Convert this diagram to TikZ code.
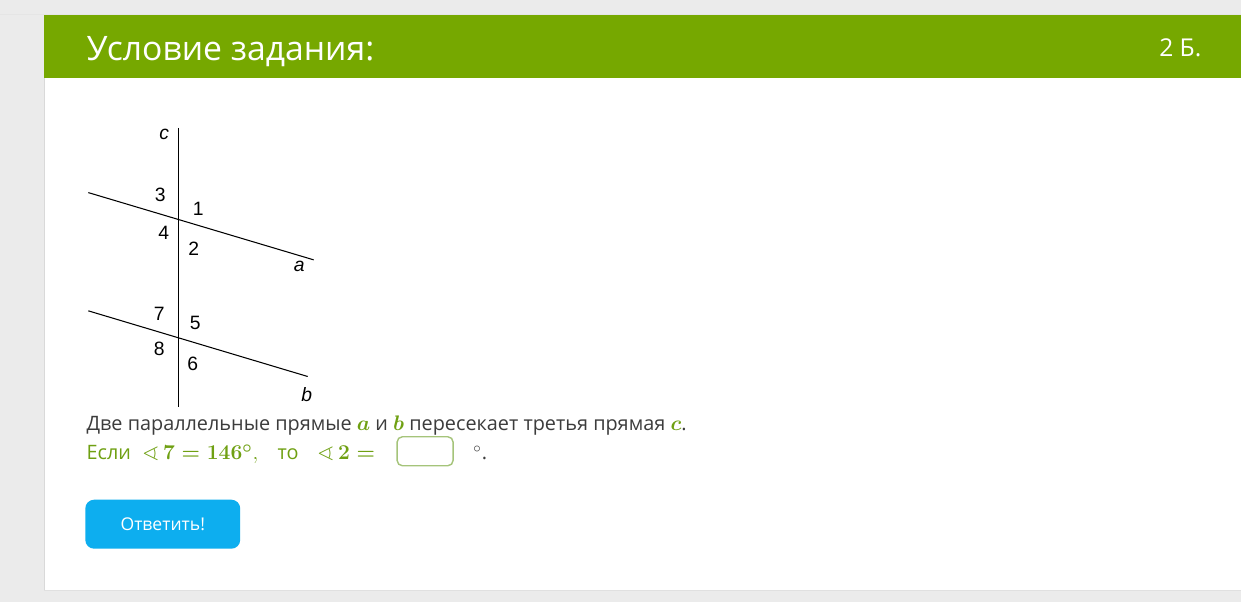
\documentclass[tikz,border=0pt]{standalone}
\usepackage{amsmath,amssymb}
\usepackage[no-math]{fontspec}
\setmainfont{Open Sans}
\newfontfamily\figfont{Liberation Sans}
\definecolor{pagegray}{HTML}{EBEBEB}
\definecolor{headgreen}{HTML}{76A800}
\definecolor{mathgreen}{HTML}{6FA012}
\definecolor{textgray}{HTML}{3C3C3C}
\definecolor{btnblue}{HTML}{0DAEEF}
\definecolor{boxline}{HTML}{A5C47A}
\tikzset{
  figline/.style={line width=0.6pt, black},
  numlabel/.style={font=\figfont\fontsize{11}{13}\selectfont, inner sep=0pt},
  linelabel/.style={font=\figfont\itshape\fontsize{11}{13}\selectfont, inner sep=0pt},
  bodytext/.style={anchor=base west, font=\fontsize{11.3}{13}\selectfont, inner sep=0pt},
  mathtext/.style={anchor=base west, font=\fontsize{13}{15}\selectfont, inner sep=0pt},
}
\newcommand{\gm}[1]{\textcolor{mathgreen}{\fontsize{13}{15}\selectfont$\boldsymbol{#1}$}}
\begin{document}
\begin{tikzpicture}[x=0.02cm, y=-0.02cm]
      % Page and card
      \fill[pagegray] (0,0) rectangle (1241,602);
      \fill[white] (44,15) rectangle (1241,590);
      \draw[black!15] (44,590) -- (44,15);
      \draw[black!12] (44,590.5) -- (1241,590.5);
      \draw[black!10] (0,14) -- (1241,14);
      \useasboundingbox (0,0) rectangle (1241,602);

      % Header
      \fill[headgreen] (44,15) rectangle (1241,78);
      \node[anchor=base west, text=white, font=\fontsize{19.2}{22}\selectfont, inner sep=0pt]
        (title) at (86,61) {Условие задания:};
      \node[anchor=base east, text=white, font=\fontsize{14}{16}\selectfont, inner sep=0pt]
        (points) at (1202,57) {2 Б.};

      % Figure: line c and parallels a, b
      \coordinate (ctop) at (178.3,128);
      \coordinate (cbot) at (178.3,407);
      \coordinate (aleft) at (88,192.7);
      \coordinate (aright) at (313.5,260);
      \coordinate (bleft) at (88,311);
      \coordinate (bright) at (307.5,376.7);
      \draw[figline] (ctop) -- (cbot);
      \draw[figline] (aleft) -- (aright);
      \draw[figline] (bleft) -- (bright);

      % Labels
      \node[linelabel] (lc) at (164,134) {c};
      \node[linelabel] (la) at (299,267) {a};
      \node[linelabel] (lb) at (306.5,395) {b};
      \node[numlabel] (n3) at (160,194.5) {3};
      \node[numlabel] (n1) at (198,208.5) {1};
      \node[numlabel] (n4) at (163.5,233) {4};
      \node[numlabel] (n2) at (193.5,248.5) {2};
      \node[numlabel] (n7) at (159,314) {7};
      \node[numlabel] (n5) at (195,323) {5};
      \node[numlabel] (n8) at (159,349) {8};
      \node[numlabel] (n6) at (192.5,364.5) {6};

      % Task text
      \node[bodytext, text=textgray] (line1) at (86,431)
        {Две параллельные прямые \gm{a} и \gm{b} пересекает третья прямая \gm{c}.};
      \node[bodytext, text=mathgreen] (if) at (86,460) {Если};
      \node[mathtext, text=mathgreen] (cond) at (142,460) {$\boldsymbol{\sphericalangle\, 7=146^\circ},$};
      \node[bodytext, text=mathgreen] (then) at (277,460) {то};
      \node[mathtext, text=mathgreen] (ask) at (317,460) {$\boldsymbol{\sphericalangle\, 2=}$};
      \draw[boxline, line width=0.8pt, rounded corners=3pt, fill=white]
        (397,437) rectangle (453,466);
      \node[bodytext, text=textgray] (deg) at (473,460) {$^\circ$.};

      % Button
      \node[fill=btnblue, rounded corners=5pt, minimum width=155*0.02cm, minimum height=49*0.02cm,
        text=white, font=\fontsize{10}{12}\selectfont, inner sep=0pt] (answer) at (162.5,524.5) {Ответить!};
\end{tikzpicture}
\end{document}
